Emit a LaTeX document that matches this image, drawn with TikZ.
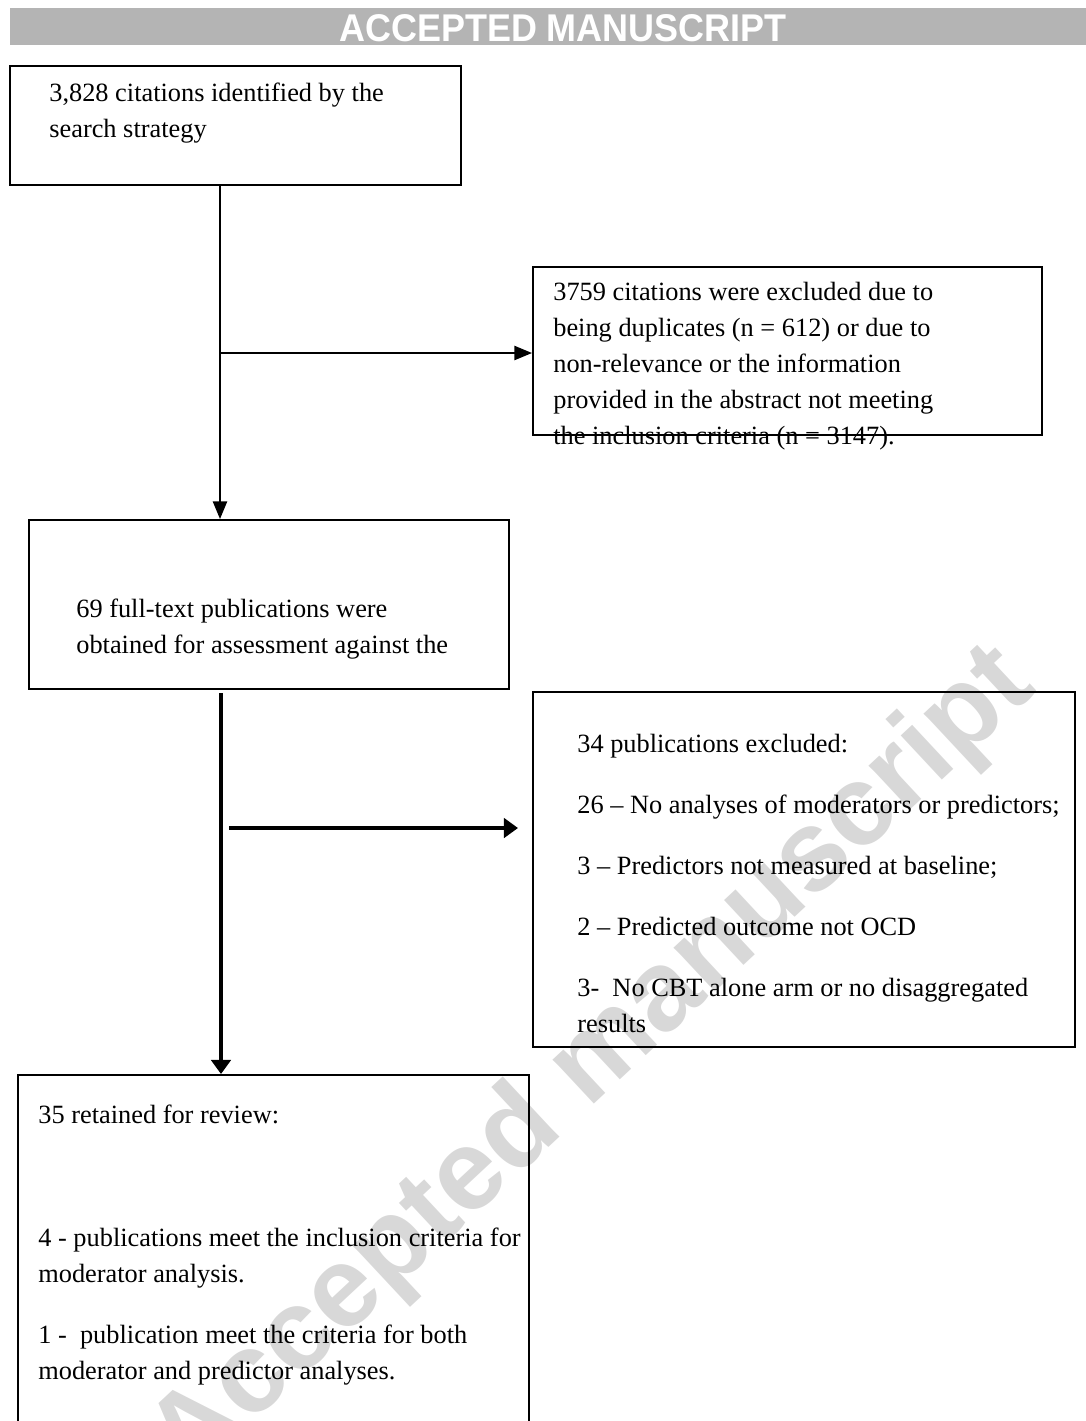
\documentclass[tikz,border=0pt]{standalone}
\usepackage{fontspec}
\setmainfont{Liberation Serif}
\newfontfamily\HeadFont{Liberation Sans}
\usetikzlibrary{fit}
\usetikzlibrary{arrows.meta}
\definecolor{ColBar}{RGB}{180,180,180}
\definecolor{ColMark}{RGB}{216,216,216}
\tikzstyle{BoxFlow}=[draw=black,line width=1.1pt,inner sep=0pt]
\tikzstyle{TextFlow}=[anchor=base west,align=left,inner sep=0pt,
font=\fontsize{15}{20.4}\selectfont]
\tikzstyle{EdgeThin}=[line width=1.1pt,-{Triangle[length=10pt,width=8pt]}]
\tikzstyle{EdgeThick}=[line width=2.8pt,-{Triangle[length=8pt,width=11pt]}]

\begin{document}
\begin{tikzpicture}[x=0.02cm,y=-0.02cm]
        \path[use as bounding box,clip](0,0)rectangle(1086,1421);
        % watermark and header
        \node[ColMark,rotate=43,anchor=base,font=\HeadFont\bfseries\fontsize{65}{65}\selectfont](Mark)at(614,1086){Accepted manuscript};
        \fill[ColBar](10,8)rectangle(1086,45);
        \node[white,font=\HeadFont\bfseries\fontsize{22}{22}\selectfont,xscale=0.93](Head)at(563,28){ACCEPTED MANUSCRIPT};
        % boxes
        \node[BoxFlow,fit={(10,66)(461,185)}](BoxSearch){};
        \node[BoxFlow,fit={(533,267)(1042,435)}](BoxDup){};
        \node[BoxFlow,fit={(29,520)(509,689)}](BoxFull){};
        \node[BoxFlow,fit={(533,692)(1075,1047)}](BoxOut){};
        \node[BoxFlow,fit={(18,1075)(529,1450)}](BoxKept){};
        % texts (anchored on their last line)
        \node[TextFlow](TxtSearch)at(49,137){3,828 citations identified by the\\search strategy};
        \node[TextFlow](TxtDup)at(553,444){3759 citations were excluded due to\\being duplicates (n = 612) or due to\\non-relevance or the information\\provided in the abstract not meeting\\the inclusion criteria (n = 3147).};
        \node[TextFlow](TxtFull)at(76,653){69 full-text publications were\\obtained for assessment against the};
        \node[TextFlow](TxtOut)at(577,1032){34 publications excluded:\\[0.5cm]26 -- No analyses of moderators or predictors;\\[0.5cm]3 -- Predictors not measured at baseline;\\[0.5cm]2 -- Predicted outcome not OCD\\[0.5cm]3-\ \ No CBT alone arm or no disaggregated\\results};
        \node[TextFlow](TxtKept)at(38,1379){35 retained for review:\\[1.74cm]4 - publications meet the inclusion criteria for\\moderator analysis.\\[0.5cm]1 -\ \ publication meet the criteria for both\\moderator and predictor analyses.};
        % connectors
        \coordinate(TrunkTop)at(220,185);
        \coordinate(TrunkMid)at(220,353);
        \coordinate(StemTop)at(221,693);
        \coordinate(StemMid)at(229,828);
        \coordinate(StemEnd)at(518,828);
        \draw[EdgeThin](TrunkTop)--(TrunkTop|-BoxFull.north);
        \draw[EdgeThin](TrunkMid)--(TrunkMid-|BoxDup.west);
        \draw[EdgeThick](StemTop)--(StemTop|-BoxKept.north);
        \draw[EdgeThick](StemMid)--(StemEnd);
    \end{tikzpicture}
\end{document}
